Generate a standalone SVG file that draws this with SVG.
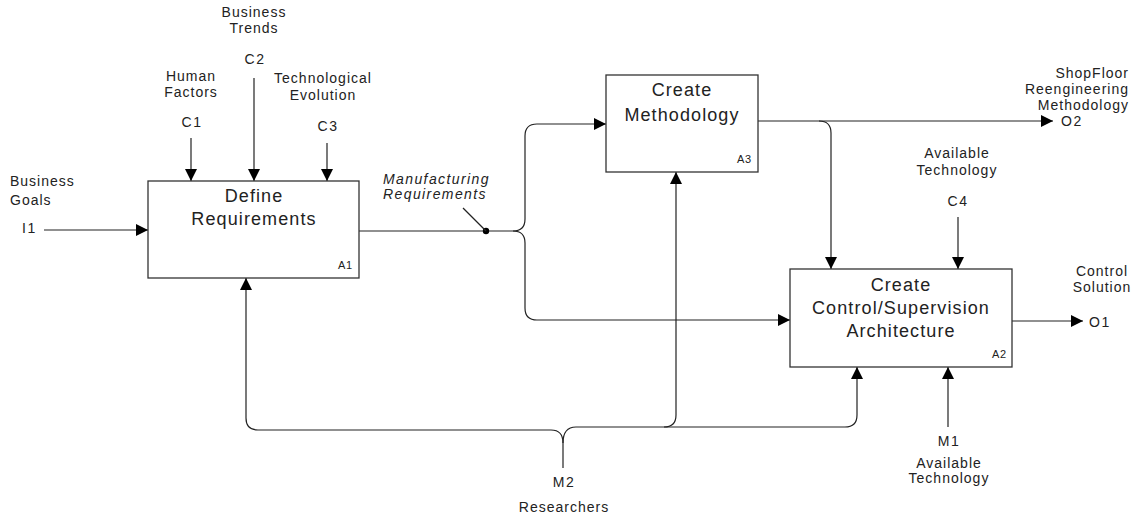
<svg xmlns="http://www.w3.org/2000/svg" width="1138" height="516" viewBox="0 0 1138 516">
  <defs>
    <marker id="arrow" markerUnits="userSpaceOnUse" markerWidth="12" markerHeight="12" refX="12" refY="6" orient="auto">
      <path d="M0,0 L12,6 L0,12 z" fill="#000"/>
    </marker>
    <style>
      .box { fill: #fff; stroke: #333; stroke-width: 1.3; }
      .title { font-family: "Liberation Sans", Arial, sans-serif; font-size: 18px; letter-spacing: 1.1px; fill: #222; text-anchor: middle; }
      .ref { font-family: "Liberation Sans", Arial, sans-serif; font-size: 11px; letter-spacing: 0.8px; fill: #222; text-anchor: end; }
      .lbl { font-family: "Liberation Sans", Arial, sans-serif; font-size: 14px; letter-spacing: 1px; fill: #222; text-anchor: middle; }
      .code { font-family: "Liberation Sans", Arial, sans-serif; font-size: 14px; letter-spacing: 1.5px; fill: #222; text-anchor: middle; }
      .start { text-anchor: start; }
      .end { text-anchor: end; }
      .ital { font-style: italic; letter-spacing: 1.4px; }
      .wire { fill: none; stroke: #222; stroke-width: 1.2; }
      .arr { marker-end: url(#arrow); }
    </style>
  </defs>

  <!-- connectors -->
  <g id="connectors">
    <!-- I1 input -->
    <path class="wire arr" d="M44,230 H148"/>
    <!-- controls into A1 -->
    <path class="wire arr" d="M191,138 V181"/>
    <path class="wire arr" d="M254,78 V181"/>
    <path class="wire arr" d="M327,143 V181"/>
    <!-- A1 output: manufacturing requirements, forked to A3 and A2 -->
    <path class="wire" d="M359,231 H513"/>
    <path class="wire arr" d="M513,231 Q525,231 525,219 V136 Q525,124 537,124 H606"/>
    <path class="wire arr" d="M513,231 Q525,231 525,243 V308 Q525,320 537,320 H790"/>
    <circle cx="486" cy="231" r="3.2" fill="#000"/>
    <path class="wire" d="M463,208 L486,231"/>
    <!-- A3 output O2 with branch down to A2 -->
    <path class="wire arr" d="M758,121 H1053"/>
    <path class="wire arr" d="M819,121 Q831,121 831,133 V269"/>
    <!-- C4 control into A2 -->
    <path class="wire arr" d="M958,217 V269"/>
    <!-- A2 output O1 -->
    <path class="wire arr" d="M1012,321 H1083"/>
    <!-- M1 mechanism -->
    <path class="wire arr" d="M948,427 V367"/>
    <!-- M2 mechanism, split to A1, A3 and A2 -->
    <path class="wire" d="M563,468 V443"/>
    <path class="wire arr" d="M563,443 Q563,430 551,430 H258 Q246,430 246,418 V278"/>
    <path class="wire arr" d="M563,443 Q563,427 576,427 H664 Q676,427 676,415 V172"/>
    <path class="wire arr" d="M664,427 H845 Q857,427 857,415 V367"/>
  </g>

  <!-- external labels -->
  <g id="label-I1">
    <text class="lbl start" x="10" y="186">Business</text>
    <text class="lbl start" x="10" y="205">Goals</text>
    <text class="code start" x="22" y="233">I1</text>
  </g>
  <g id="label-C1">
    <text class="lbl" x="191" y="81">Human</text>
    <text class="lbl" x="191" y="97">Factors</text>
    <text class="code" x="192" y="127">C1</text>
  </g>
  <g id="label-C2">
    <text class="lbl" x="254" y="17">Business</text>
    <text class="lbl" x="254" y="33">Trends</text>
    <text class="code" x="255" y="64">C2</text>
  </g>
  <g id="label-C3">
    <text class="lbl" x="323" y="83">Technological</text>
    <text class="lbl" x="323" y="100">Evolution</text>
    <text class="code" x="328" y="131">C3</text>
  </g>
  <g id="label-manufacturing">
    <text class="lbl start ital" x="383" y="184">Manufacturing</text>
    <text class="lbl start ital" x="383" y="199">Requirements</text>
  </g>
  <g id="label-O2">
    <text class="lbl end" x="1129" y="78">ShopFloor</text>
    <text class="lbl end" x="1129" y="94">Reengineering</text>
    <text class="lbl end" x="1129" y="110">Methodology</text>
    <text class="code start" x="1061" y="126">O2</text>
  </g>
  <g id="label-C4">
    <text class="lbl" x="957" y="158">Available</text>
    <text class="lbl" x="957" y="175">Technology</text>
    <text class="code" x="958" y="206">C4</text>
  </g>
  <g id="label-O1">
    <text class="lbl" x="1102" y="276">Control</text>
    <text class="lbl" x="1102" y="292">Solution</text>
    <text class="code start" x="1089" y="327">O1</text>
  </g>
  <g id="label-M1">
    <text class="code" x="949" y="446">M1</text>
    <text class="lbl" x="949" y="468">Available</text>
    <text class="lbl" x="949" y="483">Technology</text>
  </g>
  <g id="label-M2">
    <text class="code" x="564" y="487">M2</text>
    <text class="lbl" x="564" y="512">Researchers</text>
  </g>

  <!-- activity boxes -->
  <g id="A1">
    <rect class="box" x="148" y="181" width="211" height="97"/>
    <text class="title" x="254" y="202">Define</text>
    <text class="title" x="254" y="225">Requirements</text>
    <text class="ref" x="353" y="269">A1</text>
  </g>
  <g id="A3">
    <rect class="box" x="606" y="75" width="152" height="97"/>
    <text class="title" x="682" y="96">Create</text>
    <text class="title" x="682" y="121">Methodology</text>
    <text class="ref" x="752" y="163">A3</text>
  </g>
  <g id="A2">
    <rect class="box" x="790" y="269" width="222" height="98"/>
    <text class="title" x="901" y="291">Create</text>
    <text class="title" x="901" y="314">Control/Supervision</text>
    <text class="title" x="901" y="337">Architecture</text>
    <text class="ref" x="1007" y="358">A2</text>
  </g>
</svg>
